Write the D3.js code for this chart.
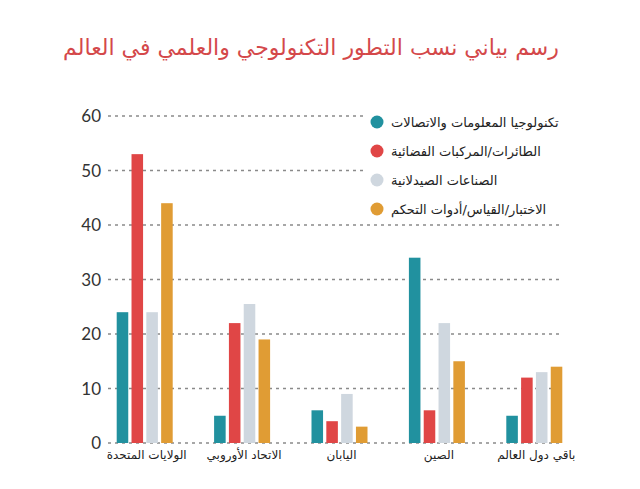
<!DOCTYPE html>
<html>
<head>
<meta charset="utf-8">
<script src="https://cdn.jsdelivr.net/npm/d3@7"></script>
<style>
  body { margin: 0; background: #fff; }
  svg { display: block; }
</style>
</head>
<body>
<div id="chart"></div>
<script>
var categories = ["الولايات المتحدة", "الاتحاد الأوروبي", "اليابان", "الصين", "باقي دول العالم"];
var seriesNames = ["تكنولوجيا المعلومات والاتصالات", "الطائرات/المركبات الفضائية", "الصناعات الصيدلانية", "الاختبار/القياس/أدوات التحكم"];
var ictValues = [24, 5, 6, 34, 5];
var aeroValues = [53, 22, 4, 6, 12];
var pharmaValues = [24, 25.5, 9, 22, 13];
var testValues = [44, 19, 3, 15, 14];
var yTicks = [0, 10, 20, 30, 40, 50, 60];
var title = "رسم بياني نسب التطور التكنولوجي والعلمي في العالم";

function init() {
    var w = 640;
    var h = 489;
    var colors = ["#21919f", "#e04646", "#cfd7df", "#e09c34"];
    var allSeries = [ictValues, aeroValues, pharmaValues, testValues];

    var svg = d3.select("#chart")
        .append("svg")
        .attr("width", w)
        .attr("height", h);

    // title
    svg.append("text")
        .attr("x", 311)
        .attr("y", 55)
        .attr("text-anchor", "middle")
        .attr("direction", "rtl")
        .style("font-family", "DejaVu Sans")
        .style("font-size", "22px")
        .style("fill", "#d4484a")
        .text(title);

    var yScale = d3.scaleLinear()
        .domain([0, 60])
        .range([443, 116]);

    var xScale = d3.scaleBand()
        .domain(d3.range(categories.length))
        .range([96, 583]);

    var inner = d3.scaleBand()
        .domain(d3.range(allSeries.length))
        .range([0, 56])
        .paddingInner(0.22);

    // grid lines
    svg.append("g").selectAll("line")
        .data(yTicks)
        .enter()
        .append("line")
        .attr("x1", 108)
        .attr("x2", 562)
        .attr("y1", function(d) { return yScale(d); })
        .attr("y2", function(d) { return yScale(d); })
        .attr("stroke", "#8a8a8a")
        .attr("stroke-width", 1.6)
        .attr("stroke-dasharray", "3,4");

    // y tick labels
    svg.append("g").selectAll("text")
        .data(yTicks)
        .enter()
        .append("text")
        .attr("x", 101)
        .attr("y", function(d) { return yScale(d) + 6; })
        .attr("text-anchor", "end")
        .style("font-family", "Lato")
        .style("font-size", "17px")
        .style("fill", "#333")
        .text(function(d) { return d; });

    // bars
    var groups = svg.append("g").selectAll("g")
        .data(allSeries)
        .enter()
        .append("g")
        .style("fill", function(d, i) { return colors[i]; });

    groups.each(function(vals, si) {
        d3.select(this).selectAll("rect")
            .data(vals)
            .enter()
            .append("rect")
            .attr("x", function(d, i) {
                return xScale(i) + (xScale.bandwidth() - 56) / 2 + inner(si);
            })
            .attr("y", function(d) { return yScale(d); })
            .attr("width", inner.bandwidth())
            .attr("height", function(d) { return yScale(0) - yScale(d); });
    });

    // category labels
    svg.append("g").selectAll("text")
        .data(categories)
        .enter()
        .append("text")
        .attr("x", function(d, i) { return xScale(i) + xScale.bandwidth() / 2 + 2; })
        .attr("y", 459)
        .attr("text-anchor", "middle")
        .attr("direction", "rtl")
        .style("font-family", "DejaVu Sans")
        .style("font-size", "12px")
        .style("fill", "#222")
        .text(function(d) { return d; });

    // legend
    svg.append("rect")
        .attr("x", 366)
        .attr("y", 108)
        .attr("width", 200)
        .attr("height", 112)
        .attr("fill", "#fff");

    var legend = svg.append("g").selectAll("g")
        .data(seriesNames)
        .enter()
        .append("g")
        .attr("transform", function(d, i) {
            return "translate(377," + (122 + i * 29) + ")";
        });

    legend.append("circle")
        .attr("r", 6.5)
        .attr("fill", function(d, i) { return colors[i]; });

    legend.append("text")
        .attr("x", 14)
        .attr("y", 5)
        .attr("text-anchor", "end")
        .attr("direction", "rtl")
        .style("font-family", "DejaVu Sans")
        .style("font-size", "13px")
        .style("fill", "#222")
        .text(function(d) { return d; });
}

window.onload = init;
</script>
</body>
</html>
